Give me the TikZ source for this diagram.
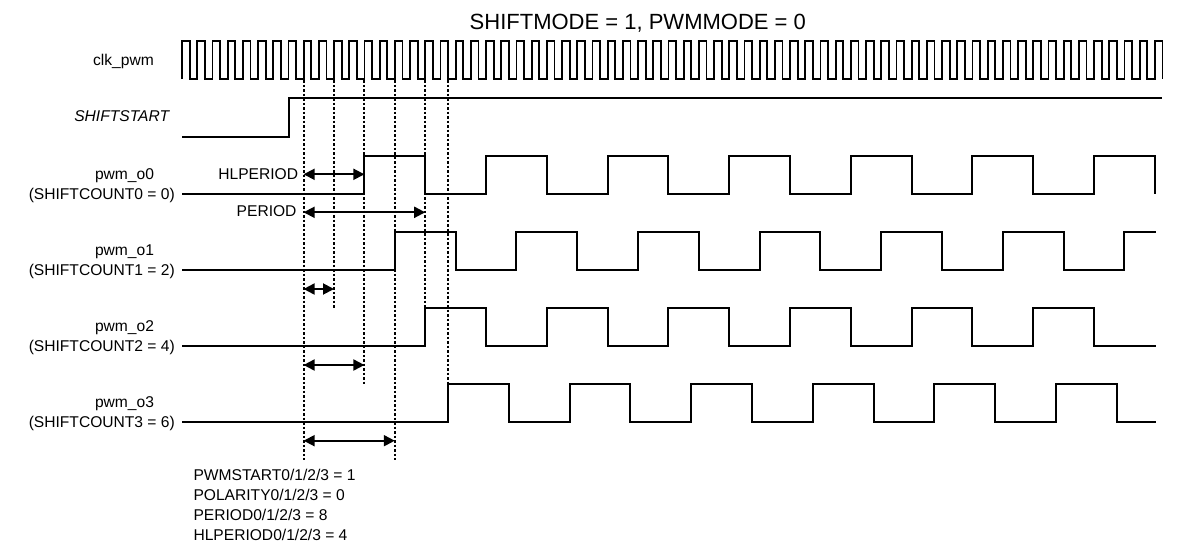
\documentclass[tikz,border=0pt]{standalone}
\usepackage{fontspec}
\setmainfont{Liberation Sans}
\usetikzlibrary{arrows.meta, positioning}

\begin{document}
\begin{tikzpicture}[x=1pt, y=-1pt, node distance=20pt,
    wave/.style={line width=2pt},
    clk/.style={line width=1.8pt},
    guide/.style={line width=1.9pt, dash pattern=on 2.5pt off 2pt},
    span/.style={line width=1.9pt, {Triangle[length=11pt,width=11pt]}-{Triangle[length=11pt,width=11pt]}},
    lbl/.style={inner sep=0pt, font=\fontsize{15.6}{18}\selectfont},
    note/.style={lbl, anchor=base west}]
    \useasboundingbox (0,0) rectangle (1188,557);

    \node[lbl, anchor=base, font=\fontsize{22}{26}\selectfont] (title) at (637.8,29.3) {SHIFTMODE = 1, PWMMODE = 0};

    \node[lbl, anchor=base] (clkname) at (123.5,65.5) {clk\_pwm};
    \node[lbl, anchor=base, font=\fontsize{15.6}{18}\selectfont\itshape] (startname) at (121.7,121.7) {SHIFTSTART};
    \foreach \i/\y/\c in {0/193.5/0, 1/269.5/2, 2/345.5/4, 3/421.5/6} {
        \node[lbl, anchor=base] (pwm\i) at (124.5,\y-14.2) {pwm\_o\i};
        \node[lbl, anchor=base east] (cnt\i) at (175,\y+5.8) {(SHIFTCOUNT\i{} = \c)};
    }

    \draw[clk] (182,79) \foreach \k in {1,...,64} { -- ++(0,-38) -- ++(7.6,0) -- ++(0,38) -- ++(7.6,0) }
        -- ++(0,-38) -- ++(7.6,0) -- ++(0,38);
    \draw[wave] (182,136.7) -- (288.5,136.7) -- (288.5,98.3) -- (1162,98.3);

    \draw[wave] (182,193.5) -- (364.4,193.5) \foreach \k in {1,...,6} { -- ++(0,-38) -- ++(60.8,0) -- ++(0,38) -- ++(60.8,0) }
        -- ++(0,-38) -- ++(60.8,0) -- ++(0,38);
    \draw[wave] (182,269.5) -- (394.8,269.5) \foreach \k in {1,...,6} { -- ++(0,-38) -- ++(60.8,0) -- ++(0,38) -- ++(60.8,0) }
        -- ++(0,-38) -- (1156,231.5);
    \draw[wave] (182,345.5) -- (425.2,345.5) \foreach \k in {1,...,5} { -- ++(0,-38) -- ++(60.8,0) -- ++(0,38) -- ++(60.8,0) }
        -- ++(0,-38) -- ++(60.8,0) -- ++(0,38) -- (1156,345.5);
    \draw[wave] (182,421.5) -- (448,421.5) \foreach \k in {1,...,5} { -- ++(0,-38) -- ++(60.8,0) -- ++(0,38) -- ++(60.8,0) }
        -- ++(0,-38) -- ++(60.8,0) -- ++(0,38) -- (1156,421.5);

    \foreach \n/\x/\e in {a/303.6/460, b/334/307.5, c/364.4/383.5, d/394.8/460, e/425.2/307.5, f/448/383.5} {
        \coordinate (g\n) at (\x,80);
        \coordinate (h\n) at (\x,\e);
        \draw[guide] (g\n) -- (h\n);
    }

    \foreach \i/\x/\y in {1/364.4/174.3, 2/425.2/212.3, 3/334/289, 4/364.4/365, 5/394.8/440.7} {
        \coordinate (sl\i) at (303.6,\y);
        \coordinate (sr\i) at (\x,\y);
        \draw[span] (sl\i) -- (sr\i);
    }

    \node[lbl, anchor=base east] (hlname) at (298.3,179) {HLPERIOD};
    \node[lbl, anchor=base east] (pername) at (296.7,216.7) {PERIOD};

    \node[note] (n1) at (193.3,480) {PWMSTART0/1/2/3 = 1};
    \node[note] (n2) [below=of n1.base west, anchor=base west] {POLARITY0/1/2/3 = 0};
    \node[note] (n3) [below=of n2.base west, anchor=base west] {PERIOD0/1/2/3 = 8};
    \node[note] (n4) [below=of n3.base west, anchor=base west] {HLPERIOD0/1/2/3 = 4};
\end{tikzpicture}
\end{document}
